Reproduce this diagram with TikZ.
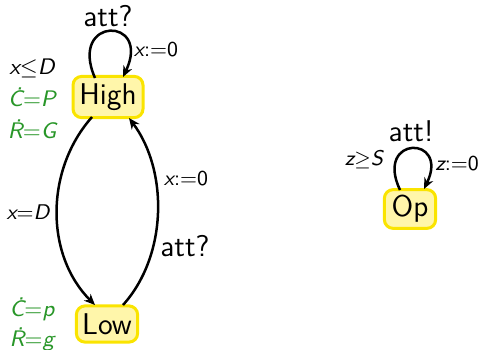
\documentclass[tikz,border=0pt]{standalone}
\usetikzlibrary{arrows.meta}
\definecolor{locfill}{RGB}{255,246,170}
\definecolor{locline}{RGB}{250,228,0}
\definecolor{invgreen}{RGB}{40,150,40}
\newcommand\vr[1]{{\itshape #1}}
\begin{document}
\begin{tikzpicture}[x=0.4pt,y=-0.4pt,font=\sffamily,
  loc/.style={draw=locline,fill=locfill,line width=1.2pt,rounded corners=3.5pt,
    inner sep=0pt,font=\sffamily\large},
  trans/.style={line width=1pt,-{Stealth[length=4.4pt,width=3.8pt]}},
  lbl/.style={inner sep=0pt,font=\sffamily\fontsize{8.5}{10}\selectfont},
  invar/.style={inner sep=0pt,font=\sffamily\small},
  inv/.style={invar,text=invgreen},
  act/.style={inner sep=0pt,font=\sffamily\large}]
\useasboundingbox (0,0) rectangle (478,349);
% locations
\node[loc,minimum width=28pt,minimum height=16.5pt] (H) at (108,97) {High};
\node[loc,minimum width=24.5pt,minimum height=14.5pt] (L) at (107,324) {Low};
\node[loc,minimum width=20.5pt,minimum height=15.5pt] (O) at (410,209) {Op};
% anchors where the transitions meet the locations
\coordinate (h1) at (95,78);
\coordinate (h2) at (123,77);
\coordinate (h3) at (92,117);
\coordinate (h4) at (129,118);
\coordinate (l1) at (95,305);
\coordinate (l2) at (123,305);
\coordinate (o1) at (400,190);
\coordinate (o2) at (424,189);
% transitions
\draw[trans] (h1) .. controls (68,16) and (152,16) .. (h2);
\draw[trans] (h3) .. controls (45,170) and (45,255) .. (l1);
\draw[trans] (l2) .. controls (168,255) and (168,170) .. (h4);
\draw[trans] (o1) .. controls (374,135) and (450,135) .. (o2);
% labels
\node[act] (a1) at (108,16) {att?};
\node[lbl] (r1) at (156,50) {\vr{x}:=0};
\node[lbl] (g1) at (28,212) {\vr{x}=\vr{D}};
\node[lbl] (r2) at (186,179) {\vr{x}:=0};
\node[act] (a2) at (185,246) {att?};
\node[act] (a3) at (411,131) {att!};
\node[lbl] (g2) at (364,160) {\vr{z}$\geq$\vr{S}};
\node[lbl] (r3) at (457,164) {\vr{z}:=0};
% invariants and rates
\node[invar] (i1) at (32,68) {\vr{x}$\leq$\vr{D}};
\node[inv] (i2) at (32,97) {\vr{\.C}=\vr{P}};
\node[inv] (i3) at (32,129) {\vr{\.R}=\vr{G}};
\node[inv] (i4) at (32,309) {\vr{\.C}=\vr{p}};
\node[inv] (i5) at (32,339) {\vr{\.R}=\vr{g}};
\end{tikzpicture}
\end{document}
